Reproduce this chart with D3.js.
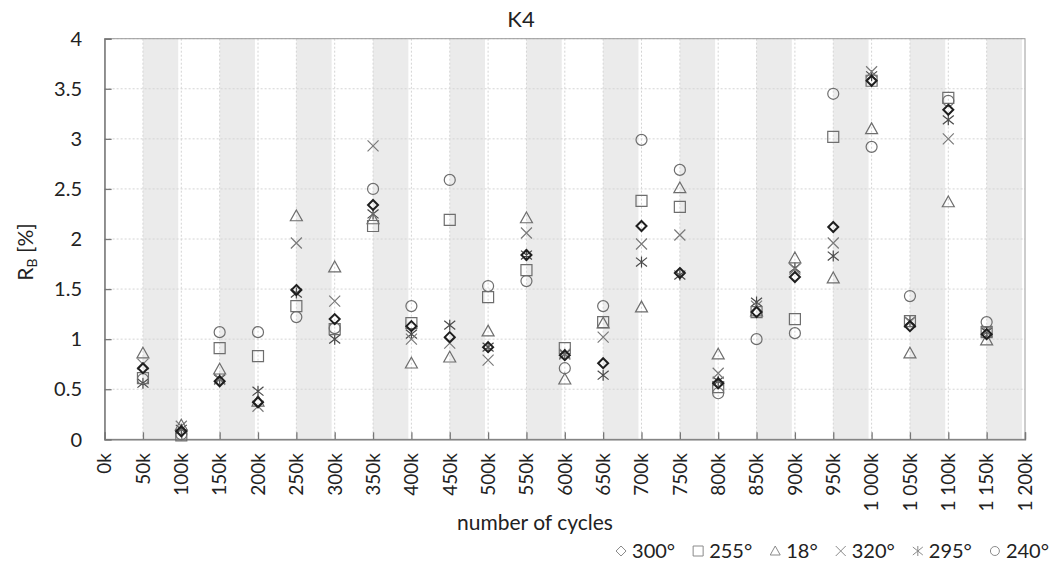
<!DOCTYPE html>
<html>
<head>
<meta charset="utf-8">
<script src="https://cdn.jsdelivr.net/npm/d3@7"></script>
<style>
  html, body { margin: 0; padding: 0; background: #fff; }
  svg { display: block; }
  text { font-family: Lato, "Noto Sans", sans-serif; fill: #222; }
</style>
</head>
<body>
<svg id="chart" width="1055" height="567"></svg>
<script>
// ---- data ----
const title = "K4";
const cycles = [50,100,150,200,250,300,350,400,450,500,550,600,650,700,750,800,850,900,950,1000,1050,1100,1150];
const xTicks = [0,50,100,150,200,250,300,350,400,450,500,550,600,650,700,750,800,850,900,950,1000,1050,1100,1150,1200];
const xTickLabels = ["0k","50k","100k","150k","200k","250k","300k","350k","400k","450k","500k","550k","600k","650k","700k","750k","800k","850k","900k","950k","1 000k","1 050k","1 100k","1 150k","1 200k"];
const yTicks = [0,0.5,1,1.5,2,2.5,3,3.5,4];
const yTickLabels = ["0","0.5","1","1.5","2","2.5","3","3.5","4"];
const bandStarts = [50,150,250,350,450,550,650,750,850,950,1050,1150];
const bandEnds   = [96,196,296,396,496,596,696,796,896,996,1096,1196];

const seriesNames = ["300°","255°","18°","320°","295°","240°"];
const s300 = [0.71,0.08,0.58,0.37,1.49,1.20,2.34,1.13,1.02,0.92,1.84,0.84,0.76,2.13,1.66,0.56,1.27,1.62,2.12,3.58,1.13,3.29,1.05];
const s255 = [0.61,0.04,0.91,0.83,1.33,1.10,2.13,1.16,2.19,1.42,1.69,0.91,1.17,2.38,2.32,0.52,1.27,1.20,3.02,3.58,1.18,3.41,1.07];
const s18  = [0.86,0.14,0.70,0.38,2.23,1.72,2.20,0.76,0.82,1.08,2.21,0.60,1.16,1.32,2.51,0.85,1.28,1.81,1.61,3.10,0.86,2.37,0.99];
const s320 = [0.75,0.13,0.60,0.33,1.96,1.38,2.93,1.00,0.96,0.79,2.06,0.85,1.02,1.95,2.04,0.66,1.33,1.70,1.96,3.67,1.17,3.00,1.08];
const s295 = [0.56,0.10,0.60,0.48,1.46,1.00,2.25,1.05,1.14,0.92,1.84,0.85,0.64,1.77,1.64,0.58,1.37,1.71,1.83,3.63,1.18,3.19,1.07];
const s240 = [0.60,0.05,1.07,1.07,1.22,1.11,2.50,1.33,2.59,1.53,1.58,0.71,1.33,2.99,2.69,0.46,1.00,1.06,3.45,2.92,1.43,3.38,1.17];
const seriesValues = [s300, s255, s18, s320, s295, s240];
const seriesShapes = ["diamond","square","triangle","cross","asterisk","circle"];

// ---- layout ----
const svg = d3.select("#chart");
const L = 104.6, R = 1025, T = 38.7, B = 439.3;
const x = d3.scaleLinear().domain([0,1200]).range([L, R]);
const y = d3.scaleLinear().domain([0,4]).range([B, T]);

// bands
svg.append("g").selectAll("rect").data(bandStarts).join("rect")
  .attr("x", (d,i) => x(d))
  .attr("width", (d,i) => x(bandEnds[i]) - x(d))
  .attr("y", T).attr("height", B - T)
  .attr("fill", "#ebebeb");

// grid
svg.append("g").selectAll("line").data(yTicks.slice(1)).join("line")
  .attr("x1", L).attr("x2", R).attr("y1", d => y(d)).attr("y2", d => y(d))
  .attr("stroke", "#d4d4d4").attr("stroke-width", 1).attr("stroke-dasharray", "2,2");
svg.append("g").selectAll("line").data(xTicks.slice(1, -1)).join("line")
  .attr("y1", T).attr("y2", B).attr("x1", d => x(d)).attr("x2", d => x(d))
  .attr("stroke", "#d4d4d4").attr("stroke-width", 1).attr("stroke-dasharray", "2,2");

// frame
svg.append("rect").attr("x", L).attr("y", T).attr("width", R - L).attr("height", B - T)
  .attr("fill", "none").attr("stroke", "#9a9a9a").attr("stroke-width", 1);

// axes (inner ticks)
const xAxis = d3.axisBottom(x).tickValues(xTicks).tickSize(-7).tickFormat("");
const gx = svg.append("g").attr("transform", `translate(0,${B})`).call(xAxis);
gx.select(".domain").attr("stroke", "#777").attr("stroke-width", 1.3);
gx.selectAll(".tick line").attr("stroke", "#777").attr("stroke-width", 1.3);

const yAxis = d3.axisLeft(y).tickValues(yTicks).tickSize(-7).tickFormat("");
const gy = svg.append("g").attr("transform", `translate(${L},0)`).call(yAxis);
gy.select(".domain").attr("stroke", "#777").attr("stroke-width", 1.3);
gy.selectAll(".tick line").attr("stroke", "#777").attr("stroke-width", 1.3);

// tick labels
svg.append("g").selectAll("text").data(yTicks).join("text")
  .attr("x", 82).attr("y", d => y(d)).attr("dy", "0.36em")
  .attr("text-anchor", "end").attr("font-size", 20)
  .text((d,i) => yTickLabels[i]);

svg.append("g").selectAll("text").data(xTicks).join("text")
  .attr("transform", d => `translate(${x(d)},453) rotate(-90)`)
  .attr("dy", "0.36em").attr("text-anchor", "end").attr("font-size", 19)
  .text((d,i) => xTickLabels[i]);

// titles
svg.append("text").attr("x", 521).attr("y", 27).attr("text-anchor", "middle")
  .attr("font-size", 22).text(title);
svg.append("text").attr("x", 535).attr("y", 530).attr("text-anchor", "middle")
  .attr("font-size", 21).text("number of cycles");
const yl = svg.append("text").attr("transform", "translate(33,252) rotate(-90)")
  .attr("text-anchor", "middle").attr("font-size", 21);
yl.append("tspan").text("R");
yl.append("tspan").attr("font-size", 14).attr("dy", 4).text("B");
yl.append("tspan").attr("dy", -4).text(" [%]");

// symbols
function symPath(shape, s) {
  const h = s / 2;
  switch (shape) {
    case "diamond": return `M0,${-h}L${h},0L0,${h}L${-h},0Z`;
    case "square": return `M${-h},${-h}H${h}V${h}H${-h}Z`;
    case "triangle": return `M0,${-h}L${h},${h*0.8}L${-h},${h*0.8}Z`;
    case "cross": return `M${-h},${-h}L${h},${h}M${-h},${h}L${h},${-h}`;
    case "asterisk": return `M${-h},${-h*0.8}L${h},${h*0.8}M${-h},${h*0.8}L${h},${-h*0.8}M0,${-h}V${h}`;
    case "circle": return `M${h},0A${h},${h} 0 1,1 ${-h},0A${h},${h} 0 1,1 ${h},0Z`;
  }
}
const styles = {
  diamond:  {stroke: "#1e1e1e", sw: 2.0, size: 10},
  square:   {stroke: "#6e6e6e", sw: 1.2, size: 11},
  triangle: {stroke: "#6e6e6e", sw: 1.2, size: 12},
  cross:    {stroke: "#7a7a7a", sw: 1.2, size: 11},
  asterisk: {stroke: "#4a4a4a", sw: 1.2, size: 11},
  circle:   {stroke: "#6e6e6e", sw: 1.2, size: 11}
};
const drawOrder = [5,4,3,2,1,0];
drawOrder.forEach(si => {
  const shape = seriesShapes[si];
  const st = styles[shape];
  svg.append("g").selectAll("path").data(seriesValues[si]).join("path")
    .attr("transform", (d,i) => `translate(${x(cycles[i])},${y(d)})`)
    .attr("d", symPath(shape, st.size))
    .attr("fill", "none").attr("stroke", st.stroke).attr("stroke-width", st.sw);
});

// legend (right aligned)
const lg = svg.append("g");
let cursor = 1049;
for (let i = seriesNames.length - 1; i >= 0; i--) {
  const t = lg.append("text").attr("y", 558).attr("font-size", 20).attr("text-anchor", "start").text(seriesNames[i]);
  const w = t.node().getComputedTextLength();
  t.attr("x", cursor - w);
  const shape = seriesShapes[i];
  const cx = cursor - w - 11;
  lg.append("path").attr("transform", `translate(${cx},551)`)
    .attr("d", symPath(shape, shape === "circle" ? 9 : 10))
    .attr("fill", "none").attr("stroke", "#8a8a8a").attr("stroke-width", 1);
  cursor = cx - 23;
}
</script>
</body>
</html>
